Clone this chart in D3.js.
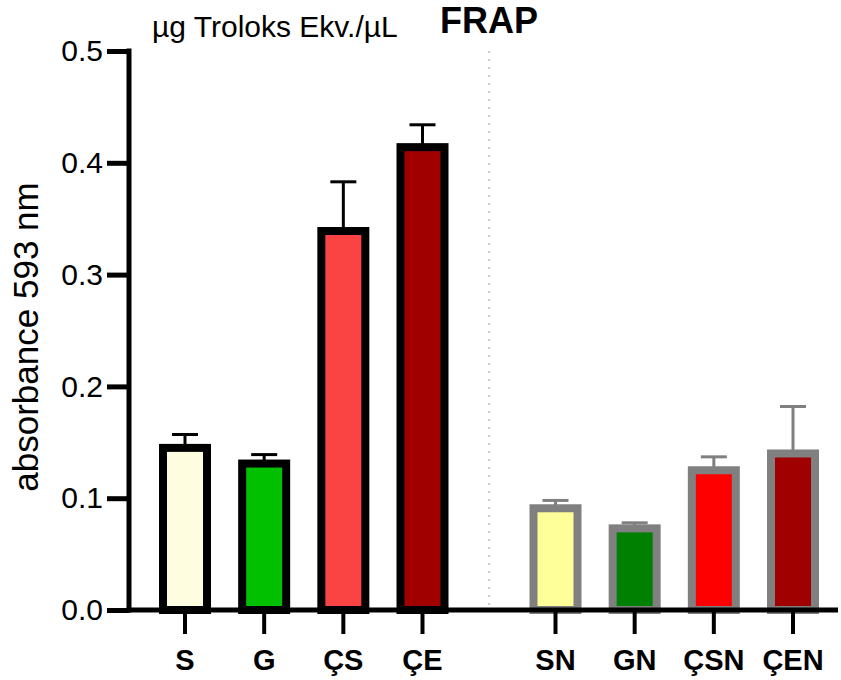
<!DOCTYPE html>
<html>
<head>
<meta charset="utf-8">
<script src="https://cdn.jsdelivr.net/npm/d3@7"></script>
<style>
  body { margin: 0; background: #fff; }
  svg { display: block; font-family: Arial, "Liberation Sans", sans-serif; }
</style>
</head>
<body>
<div id="chart"></div>
<script>
// Bar names, groups, means and upper error.
var names  = ["S", "G", "ÇS", "ÇE", "SN", "GN", "ÇSN", "ÇEN"];
var groups = ["extract", "extract", "extract", "extract", "nano", "nano", "nano", "nano"];
var means  = [0.145, 0.131, 0.339, 0.414, 0.091, 0.073, 0.125, 0.140];
var errs   = [0.012, 0.008, 0.044, 0.020, 0.007, 0.005, 0.012, 0.042];
var fills  = ["#FFFDE0", "#00C000", "#FA4444", "#A00000", "#FFFF99", "#008000", "#FF0000", "#A00000"];
var yTicks = [0, 0.1, 0.2, 0.3, 0.4, 0.5];

var width = 841, height = 680;

var svg = d3.select("#chart").append("svg")
    .attr("width", width)
    .attr("height", height);

// y scale
var y = d3.scaleLinear().domain([0, 0.5]).range([610, 51]);

// x: position index, second group shifted by a gap
var gapShift = 0.68;
var xIdx = d3.scaleLinear().domain([0, 7 + gapShift]).range([185, 793]);
function xPos(i) {
  return xIdx(i + (groups[i] == "nano" ? gapShift : 0));
}

var barW = 44, barStroke = 8;

var data = names.map(function(n, i) {
  return {name: n, group: groups[i], mean: means[i], err: errs[i], fill: fills[i], i: i};
});

// dotted separator between the groups
var sepX = (xPos(3) + xPos(4)) / 2;
svg.append("line")
    .attr("x1", sepX).attr("x2", sepX)
    .attr("y1", y(0.5)).attr("y2", y(0))
    .attr("stroke", "#999")
    .attr("stroke-width", 1)
    .attr("stroke-dasharray", "2,6");

// error bars (upper only)
var eb = svg.append("g").selectAll("g.err")
    .data(data)
  .enter().append("g")
    .attr("class", "err")
    .attr("stroke", function(d) { return d.group == "nano" ? "#808080" : "#000"; })
    .attr("stroke-width", 3);

eb.append("line")
    .attr("x1", function(d) { return xPos(d.i); })
    .attr("x2", function(d) { return xPos(d.i); })
    .attr("y1", function(d) { return y(d.mean); })
    .attr("y2", function(d) { return y(d.mean + d.err); });

eb.append("line")
    .attr("x1", function(d) { return xPos(d.i) - 13; })
    .attr("x2", function(d) { return xPos(d.i) + 13; })
    .attr("y1", function(d) { return y(d.mean + d.err); })
    .attr("y2", function(d) { return y(d.mean + d.err); });

// bars
svg.append("g").selectAll("rect.bar")
    .data(data)
  .enter().append("rect")
    .attr("class", "bar")
    .attr("x", function(d) { return xPos(d.i) - barW / 2; })
    .attr("width", barW)
    .attr("y", function(d) { return y(d.mean); })
    .attr("height", function(d) { return y(0) - y(d.mean); })
    .attr("fill", function(d) { return d.fill; })
    .attr("stroke", function(d) { return d.group == "nano" ? "#808080" : "#000"; })
    .attr("stroke-width", barStroke);

// y axis
var yAxis = d3.axisLeft(y)
    .tickValues(yTicks)
    .tickSize(22)
    .tickPadding(4)
    .tickFormat(d3.format(".1f"));

var gy = svg.append("g")
    .attr("transform", "translate(129,0)")
    .call(yAxis);
gy.select(".domain").remove();
gy.selectAll(".tick line").attr("stroke", "#000").attr("stroke-width", 5);
gy.selectAll(".tick text")
    .attr("fill", "#000")
    .style("font-size", "30px");
gy.append("line")
    .attr("x1", 0).attr("x2", 0)
    .attr("y1", y(0.5) - 2.5).attr("y2", y(0) + 2.5)
    .attr("stroke", "#000")
    .attr("stroke-width", 5);

// x axis
svg.append("line")
    .attr("x1", 126.5).attr("x2", 838)
    .attr("y1", y(0)).attr("y2", y(0))
    .attr("stroke", "#000")
    .attr("stroke-width", 5);

var gx = svg.append("g");
gx.selectAll("line.xt")
    .data(data)
  .enter().append("line")
    .attr("class", "xt")
    .attr("x1", function(d) { return xPos(d.i); })
    .attr("x2", function(d) { return xPos(d.i); })
    .attr("y1", y(0))
    .attr("y2", y(0) + 24)
    .attr("stroke", "#000")
    .attr("stroke-width", 4);

gx.selectAll("text.xl")
    .data(data)
  .enter().append("text")
    .attr("class", "xl")
    .attr("x", function(d) { return xPos(d.i); })
    .attr("y", 670)
    .attr("text-anchor", "middle")
    .style("font-size", "29px")
    .style("font-weight", "bold")
    .text(function(d) { return d.name; });

// y axis title
svg.append("text")
    .attr("transform", "translate(38,337) rotate(-90)")
    .attr("text-anchor", "middle")
    .style("font-size", "35px")
    .text("absorbance 593 nm");

// titles
svg.append("text")
    .attr("x", 152).attr("y", 37)
    .style("font-size", "30px")
    .text("µg Troloks Ekv./µL");

svg.append("text")
    .attr("x", 440).attr("y", 33)
    .style("font-size", "36px")
    .style("font-weight", "bold")
    .text("FRAP");
</script>
</body>
</html>
